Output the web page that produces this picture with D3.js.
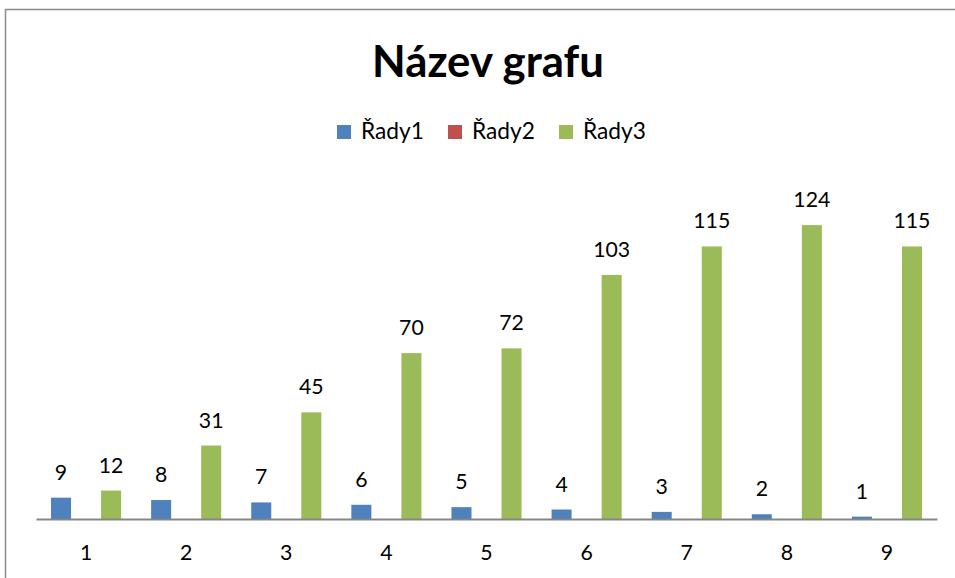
<!DOCTYPE html>
<html>
<head>
<meta charset="utf-8">
<script src="https://cdn.jsdelivr.net/npm/d3@7"></script>
<style>
  body { margin: 0; background: #fff; }
  svg { display: block; font-family: Lato, "Noto Sans", sans-serif; }
</style>
</head>
<body>
<div id="chart"></div>
<script>
// data
var categories = ["1", "2", "3", "4", "5", "6", "7", "8", "9"];
var seriesNames = ["Řady1", "Řady2", "Řady3"];
var rady1 = [9, 8, 7, 6, 5, 4, 3, 2, 1];
var rady2 = [null, null, null, null, null, null, null, null, null]; // no values shown
var rady3 = [12, 31, 45, 70, 72, 103, 115, 124, 115];
var seriesColors = ["#4f81bd", "#c0504d", "#9bbb59"];
var yMax = 140;

var width = 955, height = 578;
var svg = d3.select("#chart").append("svg")
    .attr("width", width)
    .attr("height", height);

// helper: font size so that a text gets a given width
function fitSize(str, targetW, weight) {
  var t = svg.append("text").attr("font-size", 40).attr("font-weight", weight || "normal").text(str);
  var w = t.node().getComputedTextLength();
  t.remove();
  return 40 * targetW / w;
}
var labelSize = fitSize("115", 37);
var legendSize = fitSize("Řady1", 63);

// chart frame (goes past the bottom / right edge, like the crop)
svg.append("rect")
    .attr("x", 5.5).attr("y", 9.5)
    .attr("width", 1000).attr("height", 700)
    .attr("fill", "#fff")
    .attr("stroke", "#8c8c8c")
    .attr("stroke-width", 1.5);

// title
svg.append("text")
    .attr("x", 488).attr("y", 77)
    .attr("text-anchor", "middle")
    .attr("font-weight", "bold")
    .attr("font-size", fitSize("Název grafu", 232, "bold"))
    .attr("fill", "#000")
    .text("Název grafu");

// legend
var legend = svg.append("g").attr("transform", "translate(337,125)");
seriesNames.forEach(function(name, i) {
  var g = legend.append("g").attr("transform", "translate(" + (i * 111) + ",0)");
  g.append("rect").attr("width", 14).attr("height", 14).attr("fill", seriesColors[i]);
  g.append("text").attr("x", 24).attr("y", 14)
      .attr("font-size", legendSize).attr("fill", "#000").text(name);
});

// scales
var x0 = d3.scaleBand().domain(categories).range([36, 937]);
var x1 = d3.scaleBand().domain(seriesNames).range([0, x0.bandwidth()])
    .paddingInner(0.2).paddingOuter(0.6);
var y = d3.scaleLinear().domain([0, yMax]).range([519, 519 - 140 * 2.37]);

var seriesData = [rady1, rady2, rady3];
var rows = [];
seriesData.forEach(function(vals, s) {
  vals.forEach(function(v, i) {
    if (v != null) rows.push({cat: categories[i], s: seriesNames[s], color: seriesColors[s], v: v});
  });
});

svg.selectAll("rect.bar")
  .data(rows).enter()
  .append("rect")
    .attr("class", "bar")
    .attr("x", function(d) { return x0(d.cat) + x1(d.s); })
    .attr("y", function(d) { return y(d.v); })
    .attr("width", x1.bandwidth())
    .attr("height", function(d) { return y(0) - y(d.v); })
    .attr("fill", function(d) { return d.color; });

svg.selectAll("text.val")
  .data(rows).enter()
  .append("text")
    .attr("class", "val")
    .attr("x", function(d) { return x0(d.cat) + x1(d.s) + x1.bandwidth() / 2; })
    .attr("y", function(d) { return y(d.v) - 18; })
    .attr("text-anchor", "middle")
    .attr("font-size", labelSize)
    .attr("fill", "#000")
    .text(function(d) { return d.v; });

// x axis
var xAxis = svg.append("g")
    .attr("transform", "translate(0,519)")
    .call(d3.axisBottom(x0).tickSize(0).tickPadding(26));
xAxis.select(".domain").attr("stroke", "#868686").attr("stroke-width", 2);
xAxis.selectAll("text")
    .attr("font-size", labelSize)
    .attr("font-family", "Lato, 'Noto Sans', sans-serif")
    .attr("fill", "#000");
</script>
</body>
</html>
